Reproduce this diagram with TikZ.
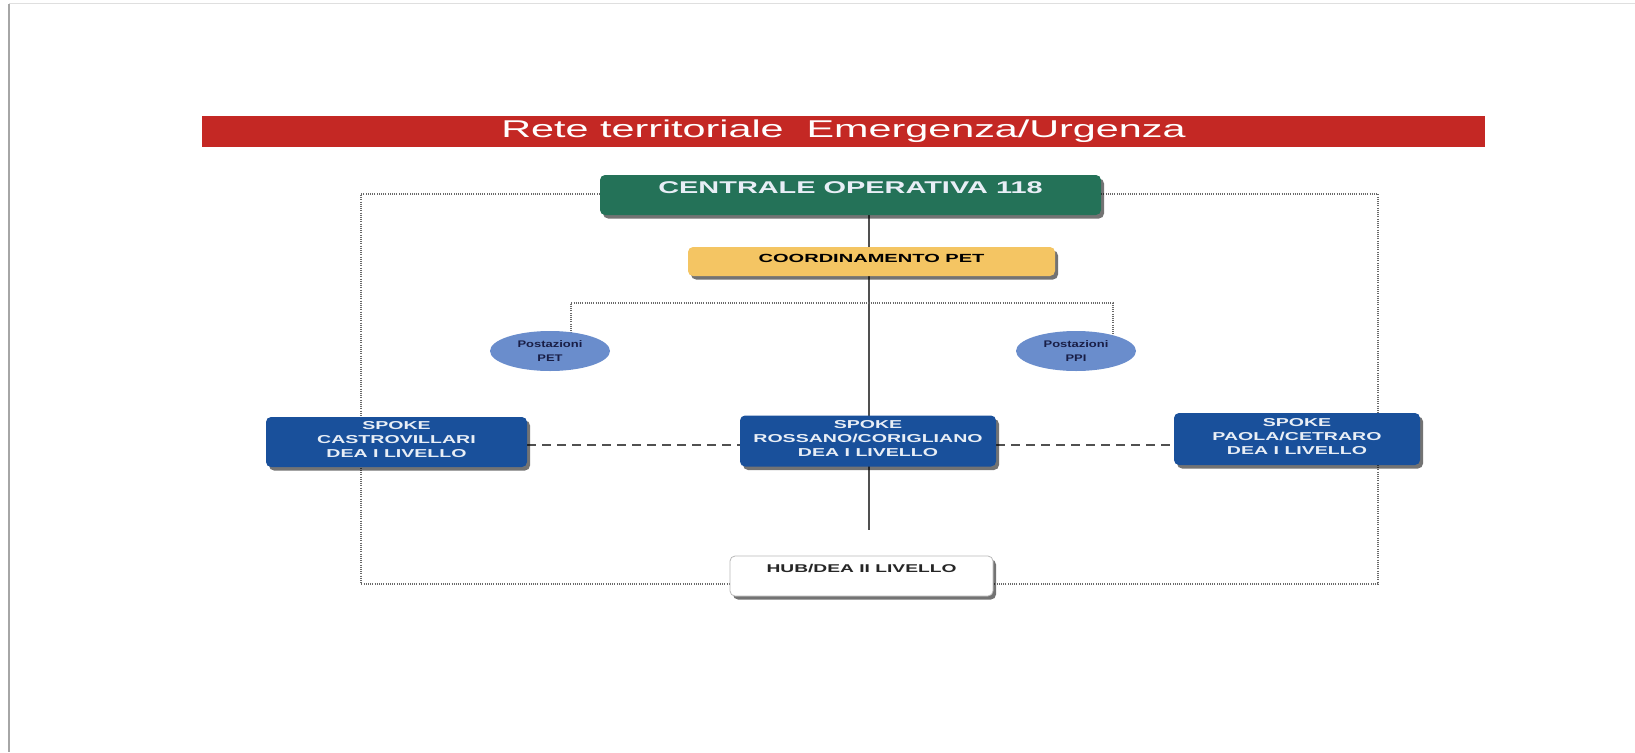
\documentclass[tikz,border=0pt]{standalone}
\usepackage{fontspec}
\setmainfont{Liberation Sans}[FakeStretch=1.7]
\newfontfamily\ellfont{Liberation Sans}[FakeStretch=1.35]
\usetikzlibrary{shadows,backgrounds,shapes.geometric}
\definecolor{titlered}{RGB}{196,40,36}
\definecolor{cogreen}{RGB}{36,114,88}
\definecolor{petyellow}{RGB}{244,197,99}
\definecolor{spokeblue}{RGB}{25,80,155}
\definecolor{ellblue}{RGB}{106,141,204}
\definecolor{navytext}{RGB}{25,30,70}
\definecolor{framegray}{RGB}{105,105,105}
\definecolor{linegray}{RGB}{80,80,80}
\definecolor{softwhite}{RGB}{232,238,246}
\newcommand{\lowstrut}{\rule[-6pt]{0pt}{6pt}}
\begin{document}
\begin{tikzpicture}[x=1pt,y=-1pt,
  boxshadow/.style={drop shadow={shadow xshift=3pt,shadow yshift=-3.5pt,fill=black,opacity=0.55}},
  box/.style={rectangle,rounded corners=5pt,boxshadow,inner xsep=0pt,inner ysep=0pt},
  titlebar/.style={rectangle,fill=titlered,minimum width=1283pt,minimum height=31pt,inner sep=0pt,text=white,font=\fontsize{24.3}{28}\selectfont},
  spokebox/.style={box,fill=spokeblue,text=softwhite,align=center,font=\bfseries\fontsize{11.5}{14}\selectfont},
  ellnode/.style={ellipse,fill=ellblue,minimum width=120pt,minimum height=40pt,inner sep=0pt,align=center,text=navytext,font=\ellfont\bfseries\fontsize{9.6}{14}\selectfont},
  frameline/.style={draw=framegray,line width=1.6pt,dash pattern=on 1pt off 1.2pt},
  solidline/.style={draw=linegray,line width=1.5pt},
  dashline/.style={draw=linegray,line width=2pt,dash pattern=on 9pt off 6pt}]
\useasboundingbox (0,0) rectangle (1635,752);
\draw[gray!25,line width=1pt] (9,4) -- (1635,4);
\draw[gray!70,line width=1.6pt] (9,4) -- (9,752);

\node[titlebar] (title) at (843.5,131.5) {Rete territoriale\ \ Emergenza/Urgenza};

\node[box,fill=cogreen,minimum width=501pt,text height=18pt,text depth=22pt,text=softwhite,
      font=\bfseries\fontsize{17}{20}\selectfont] (co) at (850.5,195) {CENTRALE OPERATIVA 118};
\node[box,fill=petyellow,minimum width=367pt,text height=15pt,text depth=14pt,text=black,
      font=\bfseries\fontsize{11.8}{14}\selectfont] (coord) at (871.5,261.5) {COORDINAMENTO PET};

\node[ellnode] (pet) at (550,351) {Postazioni\\PET};
\node[ellnode] (ppi) at (1076,351) {Postazioni\\PPI};

\node[spokebox,minimum width=261pt,minimum height=50pt] (castro) at (396.5,442) {SPOKE\\CASTROVILLARI\\DEA I LIVELLO\lowstrut};
\node[spokebox,minimum width=256pt,minimum height=51pt] (rossano) at (868,441) {SPOKE\\ROSSANO/CORIGLIANO\\DEA I LIVELLO\lowstrut};
\node[spokebox,minimum width=246pt,minimum height=52pt] (paola) at (1297,439) {SPOKE\\PAOLA/CETRARO\\DEA I LIVELLO\lowstrut};

\node[box,fill=white,draw=gray!55,line width=0.8pt,minimum width=263pt,text height=16pt,text depth=24pt,text=black!85,
      font=\bfseries\fontsize{11.3}{14}\selectfont] (hub) at (861.5,576) {HUB/DEA II LIVELLO};

\coordinate (cl) at (869,530);
\coordinate (fTL) at (361,194);
\coordinate (fTR) at (1378,194);
\coordinate (fBL) at (361,584);
\coordinate (fBR) at (1378,584);
\coordinate (pl) at (571,303);
\coordinate (pr) at (1113,303);
\coordinate (dy) at (0,445);

\begin{scope}[on background layer]
\draw[solidline] (co.south -| cl) -- (cl);
\draw[frameline] (co.west |- fTL) -- (fTL) -- (fBL) -- (hub.west |- fBL);
\draw[frameline] (co.east |- fTR) -- (fTR) -- (fBR) -- (hub.east |- fBR);
\draw[frameline] (pet.center -| pl) -- (pl) -- (pr) -- (ppi.center -| pr);
\draw[dashline] (castro.east |- dy) -- (rossano.west |- dy);
\draw[dashline] (rossano.east |- dy) -- (paola.west |- dy);
\end{scope}
\end{tikzpicture}
\end{document}
